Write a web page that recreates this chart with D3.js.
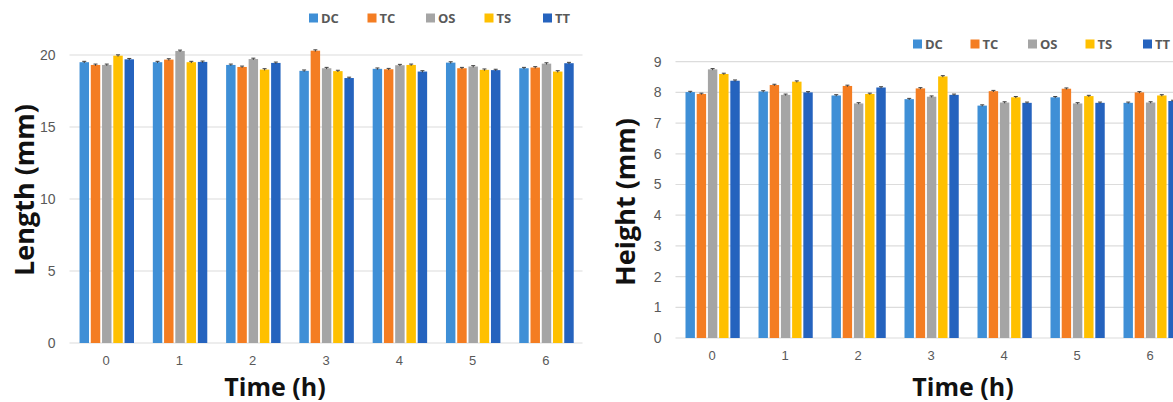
<!DOCTYPE html>
<html>
<head>
<meta charset="utf-8">
<script src="https://cdn.jsdelivr.net/npm/d3@7"></script>
<style>
  body { margin: 0; background: #fff; }
  svg { display: block; font-family: "Open Sans", "Noto Sans", sans-serif; }
</style>
</head>
<body>
<script>
// Categories and series
var times = ["0", "1", "2", "3", "4", "5", "6"];
var series = ["DC", "TC", "OS", "TS", "TT"];
var colors = ["#3f8fd6", "#f47d22", "#a5a5a5", "#ffc000", "#2563be"];

// Length (mm), one array per series, indexed by time
var lenDC = [19.5, 19.5, 19.31, 18.9, 19.04, 19.47, 19.08];
var lenTC = [19.31, 19.68, 19.17, 20.3, 19.01, 19.08, 19.13];
var lenOS = [19.31, 20.28, 19.72, 19.08, 19.29, 19.2, 19.4];
var lenTS = [19.95, 19.5, 18.99, 18.88, 19.31, 18.97, 18.85];
var lenTT = [19.7, 19.52, 19.45, 18.4, 18.85, 18.95, 19.43];
var lenTicks = [0, 5, 10, 15, 20];

// Height (mm)
var htDC = [8.01, 8.03, 7.9, 7.78, 7.57, 7.84, 7.66];
var htTC = [7.95, 8.24, 8.21, 8.13, 8.04, 8.12, 8.0];
var htOS = [8.75, 7.92, 7.64, 7.86, 7.67, 7.64, 7.67];
var htTS = [8.6, 8.35, 7.95, 8.52, 7.84, 7.88, 7.9];
var htTT = [8.38, 8.0, 8.16, 7.92, 7.66, 7.66, 7.72];
var htTicks = [0, 1, 2, 3, 4, 5, 6, 7, 8, 9];

// tiny standard errors shown as caps
var lenErr = 0.06;
var htErr = 0.025;

var W = 1173, H = 402;
var svg = d3.select("body").append("svg")
    .attr("width", W)
    .attr("height", H);

function drawPanel(p) {
  var x0 = d3.scaleBand().domain(times).range([p.left, p.right]);
  var step = x0.bandwidth();
  var x1 = d3.scaleBand().domain(series)
      .range([step * 0.137, step * 0.88]).paddingInner(0.16);
  var y = d3.scaleLinear().domain(p.domain).range([p.bottom, p.top]);

  var g = svg.append("g");

  // Gridlines
  g.selectAll(".grid")
    .data(p.ticks)
    .enter().append("line")
      .attr("x1", p.left)
      .attr("x2", p.right)
      .attr("y1", function(d) { return y(d); })
      .attr("y2", function(d) { return y(d); })
      .attr("stroke", "#dcdcdc")
      .attr("stroke-width", 1.2);

  // Y-axis tick labels
  var yAxis = d3.axisLeft(y).tickValues(p.ticks).tickSize(0).tickPadding(0);
  g.append("g")
      .attr("transform", "translate(" + (p.left - 14) + ",0)")
      .call(yAxis)
      .call(function(s) { s.select(".domain").remove(); })
      .selectAll("text")
      .attr("fill", "#595959")
      .style("font-size", "14px");

  // X-axis labels
  var xAxis = d3.axisBottom(x0).tickSize(0).tickPadding(0);
  g.append("g")
      .attr("transform", "translate(0," + (p.bottom + 13) + ")")
      .call(xAxis)
      .call(function(s) { s.select(".domain").remove(); })
      .selectAll("text")
      .attr("fill", "#595959")
      .style("font-size", "13px");

  // Bars
  var groups = g.selectAll(".grp")
    .data(times)
    .enter().append("g")
      .attr("transform", function(d) { return "translate(" + x0(d) + ",0)"; });

  groups.selectAll("rect")
    .data(function(d, i) {
      return series.map(function(s, j) { return {s: s, j: j, v: p.values[j][i]}; });
    })
    .enter().append("rect")
      .attr("x", function(d) { return x1(d.s); })
      .attr("y", function(d) { return y(d.v); })
      .attr("width", x1.bandwidth())
      .attr("height", function(d) { return y(0) - y(d.v); })
      .attr("fill", function(d) { return colors[d.j]; });

  // Error caps
  var caps = groups.selectAll(".err")
    .data(function(d, i) {
      return series.map(function(s, j) { return {s: s, v: p.values[j][i]}; });
    })
    .enter().append("g")
      .attr("stroke", "#404040")
      .attr("stroke-width", 1);
  caps.append("line")
      .attr("x1", function(d) { return x1(d.s) + x1.bandwidth() / 2; })
      .attr("x2", function(d) { return x1(d.s) + x1.bandwidth() / 2; })
      .attr("y1", function(d) { return y(d.v + p.err); })
      .attr("y2", function(d) { return y(d.v - p.err); });
  caps.append("line")
      .attr("x1", function(d) { return x1(d.s) + x1.bandwidth() / 2 - 2; })
      .attr("x2", function(d) { return x1(d.s) + x1.bandwidth() / 2 + 2; })
      .attr("y1", function(d) { return y(d.v + p.err); })
      .attr("y2", function(d) { return y(d.v + p.err); });

  // Legend
  var leg = g.selectAll(".leg")
    .data(series)
    .enter().append("g")
      .attr("transform", function(d, i) {
        return "translate(" + (p.legX + i * p.legStep) + "," + p.legY + ")";
      });
  leg.append("rect")
      .attr("x", 0).attr("y", -4.5)
      .attr("width", 9).attr("height", 9)
      .attr("fill", function(d, i) { return colors[i]; });
  leg.append("text")
      .attr("x", 12)
      .attr("dy", "0.35em")
      .attr("fill", "#595959")
      .style("font-size", "13px")
      .style("font-weight", "bold")
      .text(function(d) { return d; });

  // Axis titles
  g.append("text")
      .attr("transform", "translate(" + p.yTitleX + "," + p.yTitleY + ") rotate(-90)")
      .attr("text-anchor", "middle")
      .attr("fill", "#111")
      .style("font-size", "27px")
      .style("font-weight", "bold")
      .text(p.yTitle);
  g.append("text")
      .attr("x", p.xTitleX)
      .attr("y", p.xTitleY)
      .attr("text-anchor", "middle")
      .attr("fill", "#111")
      .style("font-size", "25px")
      .style("font-weight", "bold")
      .text("Time (h)");
}

drawPanel({
  left: 69.5, right: 582.5, top: 55, bottom: 343,
  domain: [0, 20], ticks: lenTicks,
  values: [lenDC, lenTC, lenOS, lenTS, lenTT], err: lenErr,
  legX: 309, legY: 18, legStep: 58.5,
  yTitle: "Length (mm)", yTitleX: 34, yTitleY: 190,
  xTitle: "Time (h)", xTitleX: 275, xTitleY: 396
});

drawPanel({
  left: 675.5, right: 1186.5, top: 61.7, bottom: 338,
  domain: [0, 9], ticks: htTicks,
  values: [htDC, htTC, htOS, htTS, htTT], err: htErr,
  legX: 913, legY: 44, legStep: 57.5,
  yTitle: "Height (mm)", yTitleX: 635, yTitleY: 202,
  xTitle: "Time (h)", xTitleX: 963, xTitleY: 396
});
</script>
</body>
</html>
